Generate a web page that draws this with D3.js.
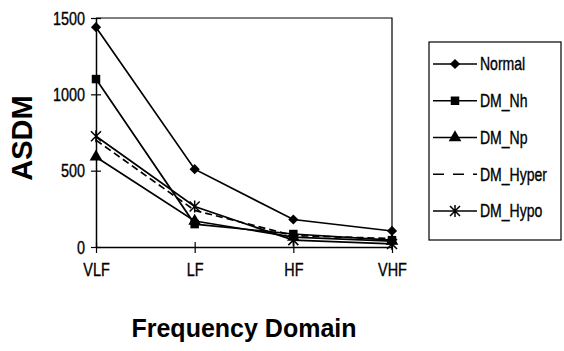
<!DOCTYPE html>
<html><head><meta charset="utf-8">
<script src="https://cdn.jsdelivr.net/npm/d3@7"></script>
<style>
html,body{margin:0;padding:0;background:#fff;}
svg{display:block;}
text{font-family:"Liberation Sans",Arial,sans-serif;fill:#000;}
</style></head>
<body>
<svg id="chart" width="564" height="351"></svg>
<script>
const categories = ["VLF", "LF", "HF", "VHF"];
const seriesNames = ["Normal", "DM_Nh", "DM_Np", "DM_Hyper", "DM_Hypo"];
const normal  = [1440, 510, 180, 105];
const dmNh    = [1100, 150, 85, 45];
const dmNp    = [590, 170, 65, 38];
const dmHyper = [700, 240, 75, 55];
const dmHypo  = [725, 265, 45, 20];
const yTicks  = [0, 500, 1000, 1500];
const xTitle = "Frequency Domain";
const yTitle = "ASDM";

const seriesValues = [normal, dmNh, dmNp, dmHyper, dmHypo];
const markers = ["diamond", "square", "triangle", "none", "star"];

const svg = d3.select("#chart");
const L = 96, R = 392, T = 18, B = 247;

const x = d3.scalePoint().domain(categories).range([L, R]).padding(0);
const y = d3.scaleLinear().domain([0, 1500]).range([B, T]);

// horizontally condense text around its own x anchor
function condense(sel, f) {
  sel.each(function() {
    const ax = +(this.getAttribute("x") || 0);
    d3.select(this).attr("transform", `translate(${ax},0) scale(${f},1) translate(${-ax},0)`);
  });
}

// frame (top and right)
svg.append("path")
  .attr("d", `M${L},${T}H${R}V${B}`)
  .attr("fill", "none").attr("stroke", "#000").attr("stroke-width", 1.2);

// y axis
const yAxis = svg.append("g").attr("transform", `translate(${L},0)`)
  .call(d3.axisLeft(y).tickValues(yTicks).tickSize(0).tickPadding(11).tickFormat(d3.format("d")));
yAxis.select(".domain").attr("stroke", "#000").attr("stroke-width", 1.5);
yAxis.selectAll("text").attr("font-size", 18).attr("dy", "0.35em")
  .attr("font-family", '"Liberation Sans",Arial,sans-serif')
  .attr("stroke", "#000").attr("stroke-width", 0.35).call(condense, 0.8);
yAxis.selectAll(".tick").append("line").attr("x1", -5).attr("x2", 5)
  .attr("stroke", "#000").attr("stroke-width", 1.2);

// x axis
const xAxis = svg.append("g").attr("transform", `translate(0,${B})`)
  .call(d3.axisBottom(x).tickSize(0).tickPadding(23));
xAxis.select(".domain").attr("stroke", "#000").attr("stroke-width", 1.5);
xAxis.selectAll("text").attr("font-size", 18).attr("dy", "0.35em")
  .attr("font-family", '"Liberation Sans",Arial,sans-serif')
  .attr("stroke", "#000").attr("stroke-width", 0.35).call(condense, 0.8);
xAxis.selectAll(".tick").append("line").attr("y1", -5).attr("y2", 6)
  .attr("stroke", "#000").attr("stroke-width", 1.2);

// marker drawing
function drawMarker(g, type, cx, cy) {
  if (type === "none") return;
  if (type === "diamond") {
    g.append("path").attr("d", d3.symbol(d3.symbolSquare, 52)())
      .attr("transform", `translate(${cx},${cy}) rotate(45)`).attr("fill", "#000");
  } else if (type === "square") {
    g.append("path").attr("d", d3.symbol(d3.symbolSquare, 72)())
      .attr("transform", `translate(${cx},${cy})`).attr("fill", "#000");
  } else if (type === "triangle") {
    g.append("path").attr("d", d3.symbol(d3.symbolTriangle, 70)())
      .attr("transform", `translate(${cx},${cy})`).attr("fill", "#000");
  } else if (type === "star") {
    const s = 5;
    g.append("path")
      .attr("d", `M${cx-s},${cy-s}L${cx+s},${cy+s}M${cx-s},${cy+s}L${cx+s},${cy-s}M${cx},${cy-s-1}V${cy+s+1}`)
      .attr("stroke", "#000").attr("stroke-width", 1.5).attr("fill", "none");
  }
}

const line = d3.line().x((d, i) => x(categories[i])).y(d => y(d));
const plot = svg.append("g");
seriesValues.forEach((vals, si) => {
  plot.append("path").datum(vals).attr("d", line)
    .attr("fill", "none").attr("stroke", "#000").attr("stroke-width", 1.7)
    .attr("stroke-dasharray", markers[si] === "none" ? "7,4" : null);
});
seriesValues.forEach((vals, si) => {
  vals.forEach((v, i) => drawMarker(plot, markers[si], x(categories[i]), y(v)));
});

// axis titles
svg.append("text").attr("x", (L + R) / 2).attr("y", 337)
  .attr("text-anchor", "middle").attr("font-size", 25).attr("font-weight", "bold")
  .text(xTitle);
svg.append("text").attr("transform", "translate(32,138) rotate(-90)")
  .attr("text-anchor", "middle").attr("font-size", 29).attr("font-weight", "bold")
  .text(yTitle);

// legend
const lg = svg.append("g");
lg.append("rect").attr("x", 429).attr("y", 42).attr("width", 132).attr("height", 198)
  .attr("fill", "#fff").attr("stroke", "#000").attr("stroke-width", 1.2);
const ly = d3.scalePoint().domain(seriesNames).range([64, 211]);
seriesNames.forEach((name, si) => {
  const cy = ly(name);
  lg.append("line").attr("x1", 433).attr("x2", 477).attr("y1", cy).attr("y2", cy)
    .attr("stroke", "#000").attr("stroke-width", 1.6)
    .attr("stroke-dasharray", markers[si] === "none" ? "11,9" : null);
  drawMarker(lg, markers[si], 455, cy);
  lg.append("text").attr("x", 480).attr("y", cy).attr("dy", "0.35em")
    .attr("font-size", 18).attr("stroke", "#000").attr("stroke-width", 0.35)
    .text(name).call(condense, 0.78);
});
</script>
</body></html>
